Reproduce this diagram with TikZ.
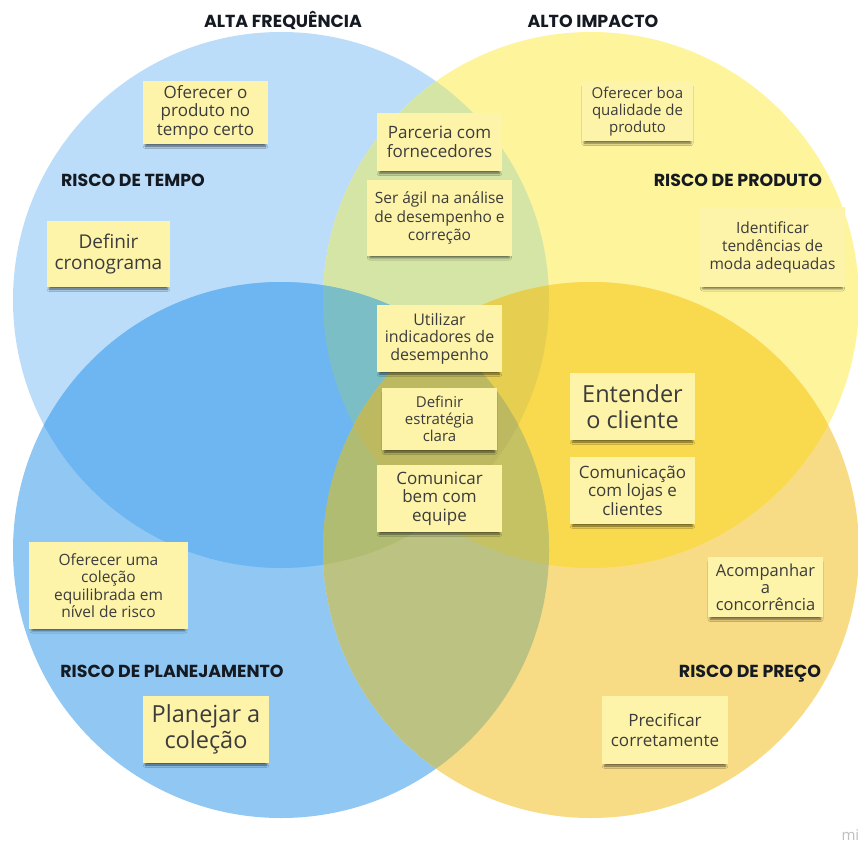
\documentclass[tikz,border=0pt]{standalone}
\usepackage{fontspec}
\setmainfont{Open Sans}
\newfontfamily\headfont{Poppins}
\usetikzlibrary{shadows.blur}

\definecolor{tl}{HTML}{BBDDF9}
\definecolor{tr}{HTML}{FEF49C}
\definecolor{bl}{HTML}{90C8F3}
\definecolor{br}{HTML}{F8DC85}
\definecolor{tltr}{HTML}{D5E5A5}
\definecolor{tlbl}{HTML}{6EB6F1}
\definecolor{trbr}{HTML}{F9DA4E}
\definecolor{blbr}{HTML}{BCC282}
\definecolor{abc}{HTML}{7CBEC6}
\definecolor{abd}{HTML}{E6CE50}
\definecolor{acd}{HTML}{B0BC72}
\definecolor{bcd}{HTML}{C5C264}
\definecolor{abcd}{HTML}{BCB960}
\definecolor{notebg}{HTML}{FDF4A9}
\definecolor{ink}{HTML}{3C3C3C}
\definecolor{headink}{HTML}{151A22}

\newcommand\nfs[2]{\fontsize{#1}{#2}\selectfont}
% the four circles, in pixels
\newcommand\cA{(281,300) circle (268pt)}
\newcommand\cB{(591,300) circle (268pt)}
\newcommand\cC{(281,550) circle (268pt)}
\newcommand\cD{(591,550) circle (268pt)}

\begin{document}
\begin{tikzpicture}[x=1pt,y=-1pt,
  note/.style={fill=notebg,text=ink,align=center,inner sep=0pt,
    blur shadow={shadow xshift=0pt,shadow yshift=-3.5pt,shadow blur radius=2.5pt,shadow opacity=60,shadow scale=.96}},
  head/.style={anchor=base,text=headink,font=\headfont\bfseries\nfs{17.4}{19}}]
\fill[white] (0,0) rectangle (858,842);
\useasboundingbox (0,0) rectangle (858,842);

% circles
\fill[tl] \cA;
\fill[tr] \cB;
\fill[bl] \cC;
\fill[br] \cD;
% two at a time
\begin{scope}
  \clip \cA;
  \fill[tltr] \cB;
  \fill[tlbl] \cC;
\end{scope}
\begin{scope}
  \clip \cD;
  \fill[trbr] \cB;
  \fill[blbr] \cC;
\end{scope}
% three at a time
\begin{scope}
  \clip \cA; \clip \cB;
  \fill[abc] \cC;
  \fill[abd] \cD;
\end{scope}
\begin{scope}
  \clip \cC; \clip \cD;
  \fill[acd] \cA;
  \fill[bcd] \cB;
\end{scope}
% all four
\begin{scope}
  \clip \cA; \clip \cB; \clip \cC;
  \fill[abcd] \cD;
\end{scope}

% headings
\node[head] (altaFreq) at (283,28) {ALTA FREQUÊNCIA};
\node[head] (altoImpacto) at (593,28) {ALTO IMPACTO};
\node[head] (rTempo) at (133,187) {RISCO DE TEMPO};
\node[head] (rProduto) at (738,187) {RISCO DE PRODUTO};
\node[head] (rPlanej) at (172,677) {RISCO DE PLANEJAMENTO};
\node[head] (rPreco) at (750,677) {RISCO DE PREÇO};

% sticky notes
\node[note,minimum width=125pt,minimum height=63pt,font=\nfs{17}{18.3}] (tempoCerto) at (205.5,112.5) {Oferecer o\\produto no\\tempo certo};
\node[note,minimum width=123pt,minimum height=66pt,font=\nfs{19}{21}] (cronograma) at (108.5,254) {Definir\\cronograma};
\node[note,minimum width=125pt,minimum height=58pt,font=\nfs{17}{19}] (parceria) at (439.5,142) {Parceria com\\fornecedores};
\node[note,minimum width=145pt,minimum height=76pt,font=\nfs{15.5}{18.5}] (agil) at (439.5,218) {Ser ágil na análise\\de desempenho e\\correção};
\node[note,minimum width=111pt,minimum height=59pt,font=\nfs{15}{17.3}] (qualidade) at (637.5,111.5) {Oferecer boa\\qualidade de\\produto};
\node[note,minimum width=145pt,minimum height=80pt,font=\nfs{15.5}{18}] (tendencias) at (772.5,247) {Identificar\\tendências de\\moda adequadas};
\node[note,minimum width=125pt,minimum height=67pt,font=\nfs{16}{17.5}] (indicadores) at (439.5,338.5) {Utilizar\\indicadores de\\desempenho};
\node[note,minimum width=115pt,minimum height=62pt,font=\nfs{15}{16.7}] (estrategia) at (439.5,419) {Definir\\estratégia\\clara};
\node[note,minimum width=125pt,minimum height=67pt,font=\nfs{17}{18.5}] (equipe) at (439.5,498.5) {Comunicar\\bem com\\equipe};
\node[note,minimum width=125pt,minimum height=67pt,font=\nfs{23.5}{25.5}] (cliente) at (632.5,406.5) {Entender\\o cliente};
\node[note,minimum width=125pt,minimum height=67pt,font=\nfs{17}{18.5}] (lojas) at (632.5,490.5) {Comunicação\\com lojas e\\clientes};
\node[note,minimum width=115pt,minimum height=60pt,font=\nfs{16.5}{17}] (concorrencia) at (765.5,587) {Acompanhar\\a\\concorrência};
\node[note,minimum width=159pt,minimum height=87pt,font=\nfs{15.5}{17.5}] (equilibrio) at (108.5,585.5) {Oferecer uma\\coleção\\equilibrada em\\nível de risco};
\node[note,minimum width=126pt,minimum height=67pt,font=\nfs{23.5}{25.5}] (planejar) at (206,729.5) {Planejar a\\coleção};
\node[note,minimum width=126pt,minimum height=68pt,font=\nfs{17}{19.3}] (precificar) at (665,730) {Precificar\\corretamente};

\node[anchor=base west,text=black!25,font=\nfs{15}{15}] (miro) at (838,840) {mi};
\end{tikzpicture}
\end{document}
